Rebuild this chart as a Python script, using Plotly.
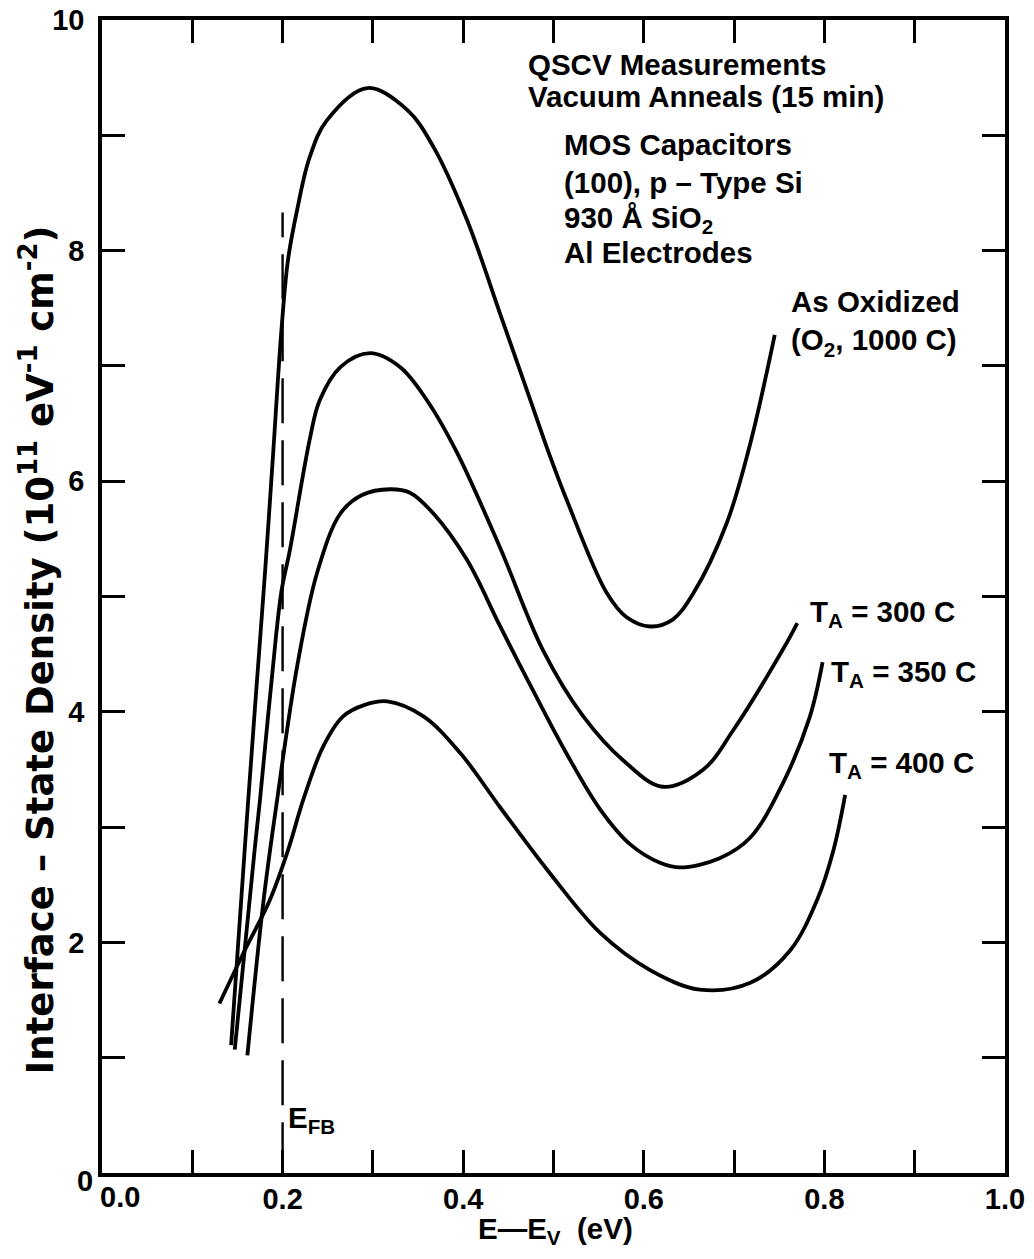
import plotly.graph_objects as go

# ---------------- data ----------------
energy_ox = [0.143, 0.158, 0.162, 0.170, 0.181, 0.189, 0.199, 0.206, 0.216, 0.230, 0.249, 0.294,
             0.338, 0.367, 0.404, 0.441, 0.471, 0.496, 0.515, 0.559, 0.581, 0.607, 0.632, 0.655,
             0.692, 0.718, 0.745]
dit_ox = [1.11, 2.80, 3.24, 4.10, 5.26, 6.18, 7.34, 7.92, 8.35, 8.81, 9.13, 9.41,
          9.22, 8.90, 8.27, 7.45, 6.78, 6.22, 5.83, 5.03, 4.82, 4.74, 4.80, 5.03,
          5.64, 6.33, 7.27]

energy_300 = [0.147, 0.169, 0.175, 0.193, 0.199, 0.208, 0.230, 0.241, 0.264, 0.297, 0.330,
              0.360, 0.393, 0.441, 0.488, 0.533, 0.577, 0.621, 0.666, 0.699, 0.754, 0.770]
dit_300 = [1.07, 2.80, 3.24, 4.68, 5.06, 5.40, 6.36, 6.70, 6.99, 7.11, 6.99,
           6.70, 6.25, 5.42, 4.54, 3.96, 3.58, 3.35, 3.50, 3.84, 4.54, 4.77]

energy_350 = [0.161, 0.179, 0.194, 0.216, 0.238, 0.264, 0.288, 0.319, 0.341, 0.367, 0.404,
              0.441, 0.477, 0.515, 0.552, 0.585, 0.618, 0.640, 0.684, 0.718, 0.754, 0.784, 0.798]
dit_350 = [1.02, 2.37, 3.24, 4.39, 5.20, 5.72, 5.88, 5.93, 5.90, 5.72, 5.32,
           4.74, 4.19, 3.63, 3.15, 2.85, 2.69, 2.65, 2.73, 2.91, 3.38, 3.96, 4.43]

energy_400 = [0.130, 0.158, 0.186, 0.206, 0.223, 0.245, 0.267, 0.291, 0.316, 0.356, 0.397,
              0.441, 0.496, 0.552, 0.607, 0.662, 0.718, 0.762, 0.792, 0.810, 0.823]
dit_400 = [1.47, 1.93, 2.37, 2.80, 3.24, 3.70, 3.96, 4.06, 4.09, 3.96, 3.64,
           3.17, 2.60, 2.08, 1.76, 1.59, 1.65, 1.93, 2.37, 2.80, 3.28]

efb_energy = [0.2, 0.2]
efb_range = [0.05, 8.33]

x_tick_vals = [0.0, 0.1, 0.2, 0.3, 0.4, 0.5, 0.6, 0.7, 0.8, 0.9, 1.0]
x_tick_text = ["", "", "0.2", "", "0.4", "", "0.6", "", "0.8", "", "1.0"]
y_tick_vals = [0, 1, 2, 3, 4, 5, 6, 7, 8, 9, 10]
y_tick_text = ["", "", "2", "", "4", "", "6", "", "8", "", "10"]

# ---------------- figure ----------------
FONT = "Liberation Sans, Arial, Helvetica, sans-serif"
WIDE = "DejaVu Sans, Liberation Sans, sans-serif"
BLACK = "#000000"

fig = go.Figure()
curve_style = dict(color=BLACK, width=3.8, shape="spline", smoothing=1.0)
for xs, ys in [(energy_ox, dit_ox), (energy_300, dit_300), (energy_350, dit_350), (energy_400, dit_400)]:
    fig.add_trace(go.Scatter(x=xs, y=ys, mode="lines", line=curve_style,
                             showlegend=False, hoverinfo="skip"))

fig.add_trace(go.Scatter(x=efb_energy, y=efb_range, mode="lines",
                         line=dict(color=BLACK, width=2.4, dash="45px,17px"),
                         showlegend=False, hoverinfo="skip"))


def ann(text, x, y, xanchor="left", yanchor="middle", size=29.5, xref="x", yref="y",
        angle=0, family=FONT):
    fig.add_annotation(text=text, x=x, y=y, xref=xref, yref=yref, showarrow=False,
                       xanchor=xanchor, yanchor=yanchor, align="left", textangle=angle,
                       font=dict(family=family, size=size, color=BLACK, weight="bold"))


ann("QSCV Measurements", 0.469, 9.61)
ann("Vacuum Anneals (15 min)", 0.469, 9.34)
ann("MOS Capacitors", 0.509, 8.92)
ann("(100), p \u2013 Type Si", 0.509, 8.59)
ann("930 \u00c5 SiO<sub>2</sub>", 0.509, 8.27)
ann("Al Electrodes", 0.509, 7.98)
ann("As Oxidized<br>(O<sub>2</sub>, 1000 C)", 0.761, 7.72, yanchor="top")
ann("T<sub>A</sub> = 300 C", 0.782, 4.85)
ann("T<sub>A</sub> = 350 C", 0.805, 4.33)
ann("T<sub>A</sub> = 400 C", 0.803, 3.54)
ann("E<sub>FB</sub>", 0.204, 0.46)
ann("0.0", 0.02, -0.021, xanchor="center", xref="paper", yref="paper", size=29)
ann("0", -0.019, -0.007, xanchor="center", xref="paper", yref="paper", size=29)
ann("E\u2014E<sub>V</sub>  (eV)", 0.502, -0.0495, xanchor="center", xref="paper", yref="paper")
ann("Interface \u2013 State Density (10<sup>11</sup> eV<sup>-1</sup> cm<sup>-2</sup>)",
    -0.071, 0.454, xanchor="center", xref="paper", yref="paper",
    size=37, angle=-90, family=WIDE)

axis_common = dict(
    showgrid=False, zeroline=False, showline=True, linecolor=BLACK, linewidth=3.5,
    mirror="ticks", ticks="inside", ticklen=23, tickwidth=2.5, tickcolor=BLACK,
    automargin=False,
    tickfont=dict(family=FONT, size=29, color=BLACK, weight="bold"),
)
fig.update_xaxes(range=[0, 1.0], tickmode="array", tickvals=x_tick_vals, ticktext=x_tick_text,
                 ticklabelstandoff=-3, **axis_common)
fig.update_yaxes(range=[0, 10], tickmode="array", tickvals=y_tick_vals, ticktext=y_tick_text,
                 ticklabelstandoff=8, **axis_common)

fig.update_layout(
    width=1034, height=1259,
    margin=dict(l=102, r=29, t=20, b=86, autoexpand=False),
    paper_bgcolor="white", plot_bgcolor="white",
    font=dict(family=FONT, size=28, color=BLACK, weight="bold"),
    showlegend=False,
)

fig.write_html("out.html", config={"displayModeBar": False},
               post_script="document.body.style.margin='0px';document.body.style.overflow='hidden';")
